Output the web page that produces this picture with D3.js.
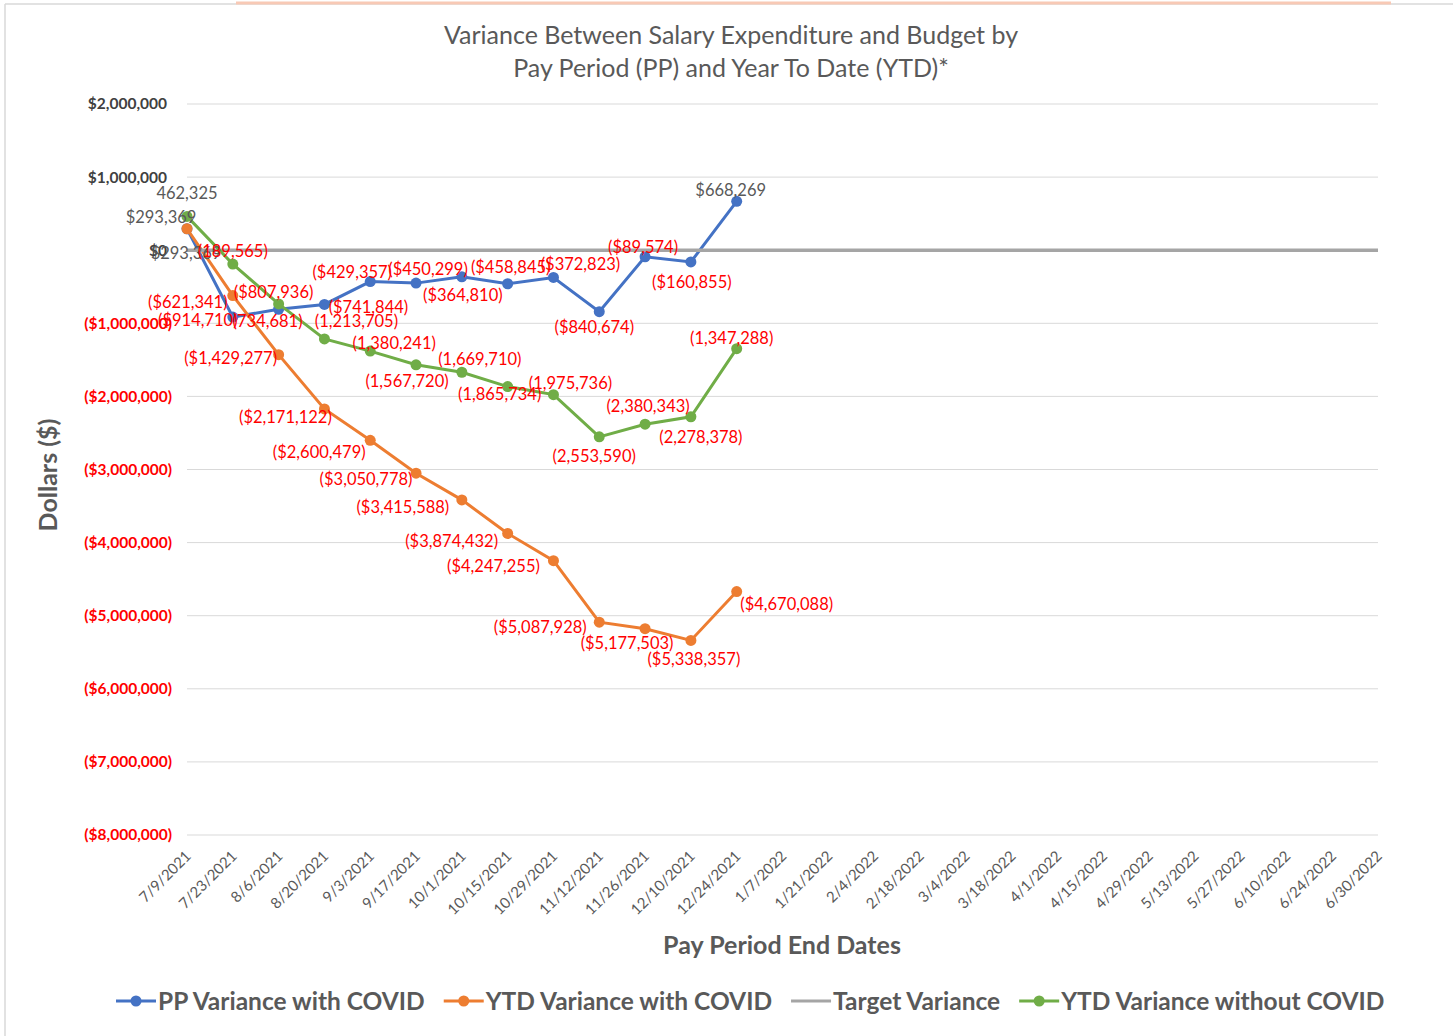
<html>
<head>
<meta charset="utf-8">
<style>
  body { margin: 0; background: #fff; }
  text { font-family: Lato, "Open Sans", sans-serif; }
</style>
</head>
<body>
<script src="https://cdn.jsdelivr.net/npm/d3@7/dist/d3.min.js"></script>
<svg width="1453" height="1036"></svg>
<script>
// categories (pay period end dates)
var dates = ["7/9/2021", "7/23/2021", "8/6/2021", "8/20/2021", "9/3/2021", "9/17/2021",
  "10/1/2021", "10/15/2021", "10/29/2021", "11/12/2021", "11/26/2021", "12/10/2021",
  "12/24/2021", "1/7/2022", "1/21/2022", "2/4/2022", "2/18/2022", "3/4/2022",
  "3/18/2022", "4/1/2022", "4/15/2022", "4/29/2022", "5/13/2022", "5/27/2022",
  "6/10/2022", "6/24/2022", "6/30/2022"];

// series values
var ppWithCovid = [293369, -914710, -807936, -741844, -429357, -450299, -364810,
  -458845, -372823, -840674, -89574, -160855, 668269];
var ytdWithCovid = [293369, -621341, -1429277, -2171122, -2600479, -3050778, -3415588,
  -3874432, -4247255, -5087928, -5177503, -5338357, -4670088];
var targetVariance = dates.map(function() { return 0; });
var ytdWithoutCovid = [462325, -189565, -734681, -1213705, -1380241, -1567720, -1669710,
  -1865734, -1975736, -2553590, -2380343, -2278378, -1347288];

var yTicks = [2000000, 1000000, 0, -1000000, -2000000, -3000000, -4000000,
  -5000000, -6000000, -7000000, -8000000];

// label offsets (from each point) -- hand placed like the original chart
var ppLabelPos = [[-1,24],[-35,3],[-5,-17],[44,3],[-18,-9],[12,-14],[1,18],[3,-17],[27,-13],[-5,16],[-2,-10],[1,20],[-6,-11]];
var ytdLabelPos = [[-26,-12],[-45,7],[-48,4],[-39,8],[-51,12],[-50,6],[-59,7],[-56,8],[-60,6],[-59,5],[-18,15],[3,19],[50,13]];
var noCovidLabelPos = [[0,-23],[0,-13],[-11,17],[32,-18],[24,-8],[-9,16],[18,-13],[-8,8],[17,-11],[-5,19],[3,-18],[10,20],[-5,-10]];

var svg = d3.select("svg");
var grey = "#595959";

// frame
svg.append("line").attr("x1", 5).attr("y1", 4).attr("x2", 5).attr("y2", 1036)
  .style("stroke", "#d9d9d9").style("stroke-width", 1.5);
svg.append("line").attr("x1", 5).attr("y1", 4).attr("x2", 1453).attr("y2", 4)
  .style("stroke", "#d9d9d9").style("stroke-width", 1.5);
svg.append("line").attr("x1", 236).attr("y1", 3).attr("x2", 1391).attr("y2", 3)
  .style("stroke", "#f8c9b5").style("stroke-width", 3);

var x = d3.scalePoint().domain(dates).range([187, 1378]);
var y = d3.scaleLinear().domain([-8000000, 2000000]).range([835, 104]);

// title
svg.append("text").attr("x", 731).attr("y", 44).attr("text-anchor", "middle")
  .style("font-size", "25px").style("fill", grey)
  .text("Variance Between Salary Expenditure and Budget by");
svg.append("text").attr("x", 731).attr("y", 77).attr("text-anchor", "middle")
  .style("font-size", "25px").style("fill", grey)
  .text("Pay Period (PP) and Year To Date (YTD)*");

// gridlines
svg.append("g").selectAll("line").data(yTicks.filter(function(d) { return d !== 0; })).enter()
  .append("line")
  .attr("x1", 187).attr("x2", 1378)
  .attr("y1", function(d) { return y(d); })
  .attr("y2", function(d) { return y(d); })
  .style("stroke", "#d9d9d9").style("stroke-width", 1);

// y axis
var dollar = d3.format("$,.0f");
var yAxis = svg.append("g").attr("transform", "translate(172,0)")
  .call(d3.axisLeft(y).tickValues(yTicks).tickSize(0).tickPadding(0)
    .tickFormat(function(d) { return d < 0 ? "(" + dollar(-d) + ")" : dollar(d); }));
yAxis.select(".domain").remove();
yAxis.selectAll("text")
  .attr("x", function(d) { return d < 0 ? 0 : -5; })
  .style("font-size", "15.5px").style("font-weight", "bold")
  .style("font-family", "Lato, sans-serif")
  .style("fill", function(d) { return d < 0 ? "#ff0000" : "#404040"; });

// x axis labels
svg.append("g").selectAll("text").data(dates).enter()
  .append("text")
  .attr("text-anchor", "end")
  .attr("transform", function(d) { return "translate(" + (x(d) + 5) + ",857) rotate(-45)"; })
  .style("font-size", "15px").style("fill", grey)
  .text(function(d) { return d; });

// axis titles
svg.append("text").attr("x", 782).attr("y", 954).attr("text-anchor", "middle")
  .style("font-size", "25px").style("font-weight", "bold").style("fill", grey)
  .text("Pay Period End Dates");
svg.append("text").attr("transform", "translate(57,475) rotate(-90)").attr("text-anchor", "middle")
  .style("font-size", "25px").style("font-weight", "bold").style("fill", grey)
  .text("Dollars ($)");

var series = [
  {name: "PP Variance with COVID", values: ppWithCovid, color: "#4472C4", marker: true, fmt: "$", pos: ppLabelPos},
  {name: "YTD Variance with COVID", values: ytdWithCovid, color: "#ED7D31", marker: true, fmt: "$", pos: ytdLabelPos},
  {name: "Target Variance", values: targetVariance, color: "#A5A5A5", marker: false},
  {name: "YTD Variance without COVID", values: ytdWithoutCovid, color: "#70AD47", marker: true, fmt: "", pos: noCovidLabelPos}
];

var line = d3.line()
  .x(function(d, i) { return x(dates[i]); })
  .y(function(d) { return y(d); });

series.forEach(function(s) {
  var g = svg.append("g");
  g.append("path").datum(s.values)
    .attr("d", line)
    .style("fill", "none").style("stroke", s.color)
    .style("stroke-width", s.marker ? 3 : 3.5);
  if (s.marker) {
    g.selectAll("circle").data(s.values).enter()
      .append("circle")
      .attr("cx", function(d, i) { return x(dates[i]); })
      .attr("cy", function(d) { return y(d); })
      .attr("r", 5.5)
      .style("fill", s.color);
  }
});

// data labels on top
series.forEach(function(s) {
  if (!s.pos) return;
  var f = d3.format(s.fmt + ",.0f");
  svg.append("g").selectAll("text").data(s.values).enter()
    .append("text")
    .attr("x", function(d, i) { return x(dates[i]) + s.pos[i][0]; })
    .attr("y", function(d, i) { return y(d) + s.pos[i][1]; })
    .attr("dy", "0.35em")
    .attr("text-anchor", "middle")
    .style("font-size", "16.5px")
    .style("fill", function(d) { return d < 0 ? "#ff0000" : grey; })
    .text(function(d) { return d < 0 ? "(" + f(-d) + ")" : f(d); });
});

// legend
var legend = svg.append("g");
var lx = 116;
series.forEach(function(s) {
  var item = legend.append("g").attr("transform", "translate(" + lx + ",1001)");
  item.append("line").attr("x1", 0).attr("x2", 40)
    .style("stroke", s.color).style("stroke-width", 3);
  if (s.marker) item.append("circle").attr("cx", 20).attr("r", 5.5).style("fill", s.color);
  var t = item.append("text").attr("x", 42).attr("dy", "0.35em")
    .style("font-size", "24.5px").style("font-weight", "bold").style("fill", grey)
    .text(s.name);
  lx += 42 + t.node().getComputedTextLength() + 19;
});
</script>
</body>
</html>
